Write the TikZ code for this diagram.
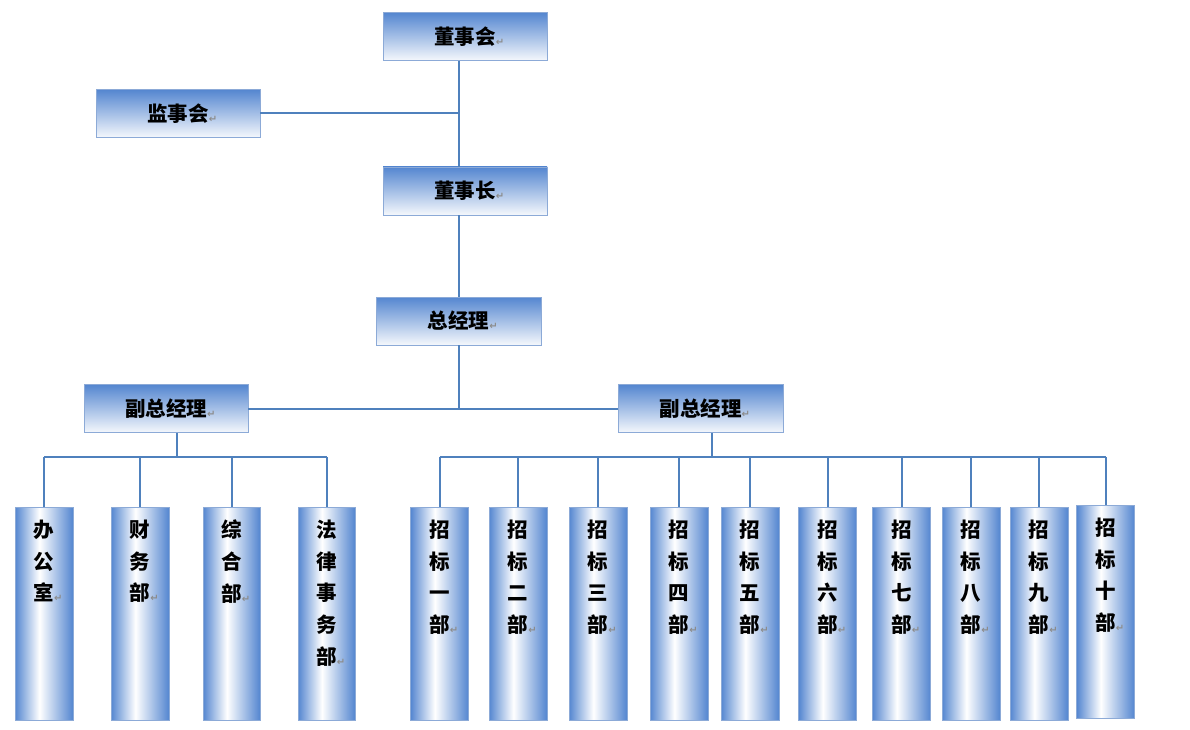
\documentclass[tikz,border=0pt]{standalone}
\usepackage{fontspec}
\newfontfamily\cjk{Noto Sans CJK SC}
\newfontfamily\dvfont{DejaVu Sans}
\definecolor{cb}{RGB}{84,134,208}
\definecolor{edgec}{RGB}{140,170,215}
\definecolor{linec}{RGB}{79,129,189}
\definecolor{retgray}{RGB}{140,140,140}
\pgfdeclarehorizontalshading{vbar}{100bp}{color(0bp)=(cb); color(25bp)=(cb); color(46bp)=(white); color(75bp)=(cb); color(100bp)=(cb)}
\newcommand\retmark{\rlap{\raisebox{-1pt}{\dvfont\fontsize{10}{10}\selectfont\color{retgray}↵}}}
\begin{document}
\begin{tikzpicture}[x=1pt,y=-1pt,
  hbox/.style={draw=edgec, line width=0.8pt, top color=cb, bottom color=white!94!cb,
    minimum width=164pt, minimum height=48pt, inner sep=0pt,
    font=\cjk\bfseries\fontsize{20.5}{20.5}\selectfont},
  vbox/.style={draw=edgec, line width=0.6pt, shade, shading=vbar,
    minimum width=58pt, minimum height=213pt, inner sep=0pt},
  vtxt/.style={anchor=north, align=center, inner sep=0pt, yshift=-13pt,
    font=\cjk\bfseries\fontsize{20.5}{31.7}\selectfont},
  conn/.style={draw=linec, line width=2pt}]
\useasboundingbox[fill=white] (0,0) rectangle (1190,730);

% upper hierarchy
\node[hbox] (dsh) at (465,36.5) {董事会\retmark};
\node[hbox] (jsh) at (178,113.5) {监事会\retmark};
\node[hbox] (dsz) at (465,191) {董事长\retmark};
\node[hbox, minimum width=165pt] (zjl) at (458.5,321) {总经理\retmark};
\node[hbox] (fz1) at (166,408.5) {副总经理\retmark};
\node[hbox, minimum width=165pt] (fz2) at (700.5,408.5) {副总经理\retmark};

\coordinate (tr) at (459,0);
\coordinate (dL) at (177,457);
\coordinate (dR) at (712,457);

% left departments
\node[vbox, label={[vtxt]north:{办\\公\\室\retmark}}] (b1) at (44,613.5) {};
\node[vbox, label={[vtxt]north:{财\\务\\部\retmark}}] (b2) at (140,613.5) {};
\node[vbox, minimum width=57pt, label={[vtxt]north:{综\\合\\部\retmark}}] (b3) at (231.5,613.5) {};
\node[vbox, minimum width=57pt, label={[vtxt]north:{法\\律\\事\\务\\部\retmark}}] (b4) at (326.5,613.5) {};

% right departments
\foreach \x/\c/\yy [count=\i] in {439.5/一/613.5, 518/二/613.5, 598/三/613.5, 679/四/613.5,
    750/五/613.5, 827.5/六/613.5, 901.5/七/613.5, 971/八/613.5, 1039/九/613.5, 1105.5/十/611.5}
  \node[vbox, label={[vtxt]north:{招\\标\\\c\\部\retmark}}] (r\i) at (\x,\yy) {};

% connectors
\draw[conn] (dsh.south -| tr) -- (dsz.north -| tr);
\draw[conn] (jsh.east) -- (jsh.east -| tr);
\draw[conn] (dsz.south -| tr) -- (zjl.north -| tr);
\draw[conn] (zjl.south -| tr) -- (fz1.east -| tr);
\draw[conn] (fz1.east) -- (fz2.west);

\draw[conn] (fz1.south -| dL) -- (dL);
\draw[conn] (b1.north |- dL) -- (b4.north |- dL);
\foreach \n in {b1,b2,b3,b4}
  \draw[conn] (\n.north |- dL) -- (\n.north);

\draw[conn] (fz2.south -| dR) -- (dR);
\draw[conn] (r1.north |- dR) -- (r10.north |- dR);
\foreach \i in {1,...,10}
  \draw[conn] (r\i.north |- dR) -- (r\i.north);
\end{tikzpicture}
\end{document}
